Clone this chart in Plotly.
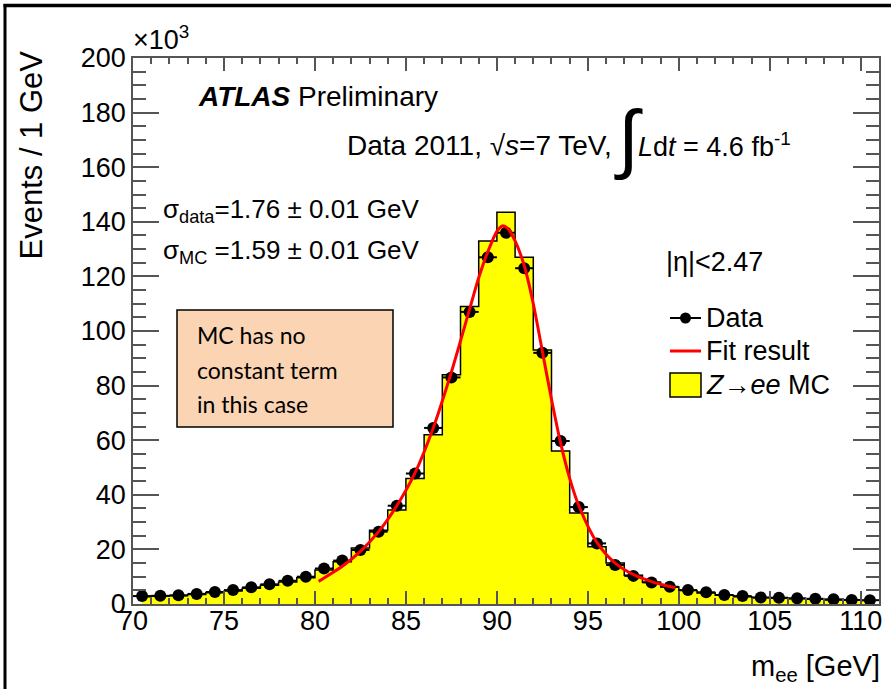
import plotly.graph_objects as go

# Z->ee invariant mass, 1 GeV bins (values in units of 10^3 events)
mass = [70.5, 71.5, 72.5, 73.5, 74.5, 75.5, 76.5, 77.5, 78.5, 79.5,
        80.5, 81.5, 82.5, 83.5, 84.5, 85.5, 86.5, 87.5, 88.5, 89.5,
        90.5, 91.5, 92.5, 93.5, 94.5, 95.5, 96.5, 97.5, 98.5, 99.5,
        100.5, 101.5, 102.5, 103.5, 104.5, 105.5, 106.5, 107.5, 108.5, 109.5,
        110.5]
data_events = [2.9, 3.0, 3.2, 3.7, 4.4, 5.1, 6.1, 7.2, 8.5, 10.0,
               13.0, 15.9, 19.8, 26.5, 36.0, 47.8, 64.5, 83.0, 107.0, 127.0,
               136.0, 123.0, 92.0, 59.7, 35.5, 22.2, 14.3, 10.3, 7.9, 6.3,
               5.1, 4.3, 3.3, 2.9, 2.4, 2.3, 2.1, 1.9, 1.7, 1.5,
               1.4]
mc_events = [2.7, 2.8, 3.0, 3.5, 4.1, 4.8, 5.8, 6.9, 8.1, 9.6,
             12.5, 15.5, 20.5, 27.0, 34.4, 46.0, 62.0, 84.0, 109.0, 133.0,
             143.5, 127.0, 93.0, 56.0, 33.3, 21.0, 15.0, 10.5, 8.0, 6.2,
             4.9, 4.0, 3.2, 2.7, 2.3, 2.1, 1.9, 1.7, 1.5, 1.4,
             1.3]

# fit curve
fit_mass = [80.2, 80.5, 81.5, 82.5, 83.5, 84.5, 85.5, 86.5, 87.5, 88.5,
            89.0, 89.5, 90.0, 90.3, 90.6, 91.0, 91.5, 92.0, 92.5, 93.0,
            93.5, 94.0, 94.5, 95.5, 96.5, 97.5, 98.5, 99.5, 99.8]
fit_events = [8.3, 9.5, 13.8, 19.3, 26.5, 36.0, 48.0, 64.5, 85.0, 108.0,
              119.5, 129.0, 136.5, 138.5, 137.5, 133.0, 124.0, 110.0, 92.5, 75.0,
              59.0, 46.0, 36.0, 22.5, 15.0, 10.8, 8.2, 6.4, 6.0]

x_ticks = [70, 75, 80, 85, 90, 95, 100, 105, 110]
y_ticks = [0, 20, 40, 60, 80, 100, 120, 140, 160, 180, 200]

W, H = 891, 689
L, R, T, B = 133, 12, 58, 85
PW, PH = W - L - R, H - T - B
FONT = "Liberation Sans, Arial, sans-serif"


def px(x):
    return (x - L) / PW


def py(y):
    return (H - B - y) / PH


fig = go.Figure()

# MC histogram (filled step)
fig.add_trace(go.Scatter(
    x=mass, y=mc_events, mode='lines', line_shape='hvh',
    line=dict(color='black', width=1.5),
    fill='tozeroy', fillcolor='#ffff00', showlegend=False
))

# data points
fig.add_trace(go.Scatter(
    x=mass, y=data_events, mode='markers',
    marker=dict(color='black', size=12),
    error_x=dict(type='constant', value=0.5, width=0, thickness=2, color='black'),
    showlegend=False
))

# fit result
fig.add_trace(go.Scatter(
    x=fit_mass, y=fit_events, mode='lines', line_shape='spline',
    line=dict(color='#ff0000', width=3, smoothing=0.8),
    showlegend=False
))

axis_common = dict(
    showline=True, linecolor='#555555', linewidth=1.5, mirror='allticks',
    ticks='inside', tickcolor='#555555', tickwidth=1.5,
    showgrid=False, zeroline=False,
    tickfont=dict(family=FONT, size=27, color='black'),
)
fig.update_xaxes(range=[70, 111], tickvals=x_ticks, ticklen=13, ticklabelstandoff=-8,
                 minor=dict(dtick=1, ticklen=6, ticks='inside', tickcolor='#555555', tickwidth=1.5),
                 **axis_common)
fig.update_yaxes(range=[0, 200], tickvals=y_ticks, ticklen=26,
                 minor=dict(dtick=5, ticklen=13, ticks='inside', tickcolor='#555555', tickwidth=1.5),
                 **axis_common)

ann = []


def text(x, y, s, size=27, xanchor='left', family=FONT, angle=0, yanchor='middle'):
    ann.append(dict(x=px(x), y=py(y), xref='paper', yref='paper', text=s,
                    showarrow=False, xanchor=xanchor, yanchor=yanchor, textangle=angle,
                    font=dict(family=family, size=size, color='black')))


text(131, 38, "×10<sup>3</sup>", size=27)
text(31, 49, "Events / 1 GeV", size=31, angle=-90, xanchor='center', yanchor='top')
text(882, 668, "m<sub>ee</sub> [GeV]", size=29, xanchor='right')
text(196, 97, "<b><i>ATLAS</i></b> Preliminary", size=28)
text(614, 145, "Data 2011, √<i>s</i>=7 TeV,", size=28, xanchor='right')
text(628, 138, "∫", size=76, xanchor='center')
text(636, 145, "<i>L</i>d<i>t</i> = 4.6 fb<sup>-1</sup>", size=27)
text(161, 210, "σ<sub>data</sub>=1.76 ± 0.01 GeV", size=26)
text(161, 252, "σ<sub>MC</sub> =1.59 ± 0.01 GeV", size=26)
text(664, 262, "|η|<2.47")
text(704, 318, "Data")
text(704, 351, "Fit result")
text(704, 385, "<i>Z</i>→<i>ee</i> MC")

# note box
BOXFONT = "Lato, Open Sans, sans-serif"
text(195, 335, "MC has no", size=23, family=BOXFONT)
text(195, 370, "constant term", size=23, family=BOXFONT)
text(195, 404, "in this case", size=23, family=BOXFONT)

shapes = [
    dict(type='rect', xref='paper', yref='paper', x0=px(177), x1=px(393), y0=py(310), y1=py(427),
         fillcolor='#fbd4b4', line=dict(color='black', width=1.5), layer='below'),
    # legend glyphs
    dict(type='line', xref='paper', yref='paper', x0=px(670), x1=px(701), y0=py(318), y1=py(318),
         line=dict(color='black', width=2)),
    dict(type='circle', xref='paper', yref='paper', x0=px(680), x1=px(691), y0=py(312.5), y1=py(323.5),
         fillcolor='black', line=dict(color='black', width=0)),
    dict(type='line', xref='paper', yref='paper', x0=px(670), x1=px(701), y0=py(351), y1=py(351),
         line=dict(color='#ff0000', width=3)),
    dict(type='rect', xref='paper', yref='paper', x0=px(670), x1=px(701), y0=py(373), y1=py(397),
         fillcolor='#ffff00', line=dict(color='black', width=1.5)),
    # outer frame
    dict(type='line', xref='paper', yref='paper', x0=px(5), x1=px(5), y0=py(4), y1=py(H),
         line=dict(color='black', width=3)),
    dict(type='line', xref='paper', yref='paper', x0=px(3.5), x1=px(W), y0=py(5.5), y1=py(5.5),
         line=dict(color='black', width=3.5)),
]

fig.update_layout(
    width=W, height=H,
    margin=dict(l=L, r=R, t=T, b=B, autoexpand=False),
    paper_bgcolor='white', plot_bgcolor='white',
    showlegend=False,
    annotations=ann, shapes=shapes,
    font=dict(family=FONT, color='black'),
)

# drop the browser's default body margin so the figure sits at the window origin
fig.write_html("out.html", config={'displayModeBar': False},
               post_script="document.body.style.margin='0';")
